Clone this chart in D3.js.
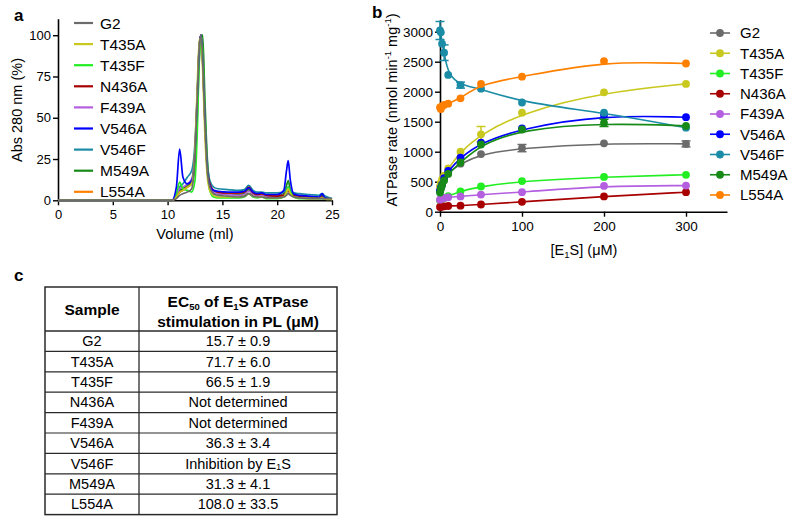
<!DOCTYPE html>
<html><head><meta charset="utf-8">
<script src="https://cdn.jsdelivr.net/npm/d3@7"></script>
<style>
body{margin:0;background:#fff}
text{font-family:'Liberation Sans',Arial,Helvetica,sans-serif;fill:#000}
</style>
</head><body>
<svg id="fig" width="800" height="524"></svg>
<script>
// ---------- shared ----------
const samples = ["G2","T435A","T435F","N436A","F439A","V546A","V546F","M549A","L554A"];
const colors  = ["#6b6b6b","#c8c81e","#22ee22","#a80000","#b45ee0","#0000ff","#1a8ca5","#178a17","#ff8000"];

// ---------- panel a: size-exclusion chromatograms ----------
const volumes = [0,10.4,10.8,11.1,11.4,11.8,12.2,12.5,12.7,12.9,13.05,13.2,13.4,13.6,13.85,14.2,14.6,15.5,16.5,17.0,17.4,17.8,18.2,18.6,19.0,20.0,20.6,20.85,21.0,21.2,21.5,22.0,23.0,23.8,24.1,24.3,24.6,25.0];
const absG2    = [0,0,1,3,4,5,7,28,60,94,100,85,48,20,8,4,3,2.5,2,2.5,4,2.5,2,2,1.5,1.5,2,3,4,3,2,1.5,1,1,1,1,1,1];
const absT435A = [0,0,2,5,6,8,10,32,68,98,97,78,40,16,6,3,2,2,2,2.5,4,2.5,2,2,1.5,1.5,2,5,7,4,2,1.5,1,1,1.5,1,0.5,0.5];
const absT435F = [0,0,4,11,7,6,5,12,40,88,100,90,54,23,6,2,1.5,1.5,1.5,2,4,2,1.5,2,1,1,2,5,8,5,2,1,1,1,1,1,1,0.5];
const absN436A = [0,0,2,5,6,8,10,28,60,94,100,86,50,22,10,6,5,4.5,4.5,5,8,4.5,3.5,4,3,2.5,3,5,6,4,3,2.5,2,1.5,2,1,1,0.5];
const absF439A = [0,0,3,7,8,10,13,30,62,94,100,85,49,21,9,5,4,3.5,3,3.5,5.5,3.5,3,3,2.5,2.5,3,5,6,4,3,2,1.5,1.5,2,1,1,0.5];
const absV546A = [0,0,8,31,14,10,12,30,62,94,100,84,48,20,9,6,5.5,5,5,5.5,7.5,5,4,4.5,3.5,3.5,6,18,24,12,4,3,2.5,2,4,2,1,0.5];
const absV546F = [0,0,3,8,10,14,18,35,64,95,100,86,52,25,12,8,7,6.5,6,6.5,9,6,5,5,4.5,4.5,5,7,8,6,4.5,4,3.5,3,4,3,2,1];
const absM549A = [0,0,2,6,7,9,10,22,50,86,99,100,62,28,10,5,4,3.5,3.5,4,6.5,4,3,3,2.5,2.5,4,9,12,6,3,2.5,2,1.5,3,1.5,1,0.5];
const absL554A = [0,0,2,6,7,9,11,27,59,94,100,84,48,21,9,5,4.5,4,4,4.5,6.5,4,3.5,3.5,3,3,3.5,5,6,4,3,2.5,2,1.5,2,1,1,0.5];
const absAll = [absG2,absT435A,absT435F,absN436A,absF439A,absV546A,absV546F,absM549A,absL554A];
const ticksA_x = [0,5,10,15,20,25];
const ticksA_y = [0,25,50,75,100];

// ---------- panel b: ATPase vs E1S ----------
const conc = [0,1,2.5,5,10,25,50,100,200,300];
const rateG2    = [350,400,470,550,650,800,960,1060,1140,1130];
const rateT435A = [420,480,540,600,720,1000,1290,1650,1990,2130];
const rateT435F = [190,200,210,230,260,340,420,510,580,615];
const rateN436A = [80,82,85,90,95,100,120,165,255,325];
const rateF439A = [200,210,220,230,240,255,285,325,430,435];
const rateV546A = [350,400,450,560,680,900,1150,1390,1610,1575];
const rateV546F = [3020,2990,2800,2650,2280,2110,2050,1820,1650,1400];
const rateM549A = [320,380,440,520,630,820,1120,1370,1480,1430];
const rateL554A = [1740,1710,1760,1780,1800,1890,2130,2250,2510,2470];
const errG2    = [0,0,0,0,0,0,0,60,0,50];
const errT435A = [0,0,0,0,0,0,130,0,0,0];
const errV546F = [150,0,0,130,0,50,0,0,0,0];
const errM549A = [0,0,0,0,0,0,0,0,60,0];
const errNone  = [0,0,0,0,0,0,0,0,0,0];
const rateAll = [rateG2,rateT435A,rateT435F,rateN436A,rateF439A,rateV546A,rateV546F,rateM549A,rateL554A];
const errAll  = [errG2,errT435A,errNone,errNone,errNone,errNone,errV546F,errM549A,errNone];
const ticksB_x = [0,100,200,300];
const ticksB_y = [0,500,1000,1500,2000,2500,3000];

// ---------- panel c: table ----------
const tableSamples = ["G2","T435A","T435F","N436A","F439A","V546A","V546F","M549A","L554A"];
const tableEC50 = ["15.7 ± 0.9","71.7 ± 6.0","66.5 ± 1.9","Not determined","Not determined","36.3 ± 3.4","Inhibition by E\u2081S","31.3 ± 4.1","108.0 ± 33.5"];

const svg = d3.select("#fig");

function styleAxis(g){
  g.selectAll("path").attr("stroke","#000").attr("stroke-width",1.6);
  g.selectAll("line").attr("stroke","#000").attr("stroke-width",1.4);
}

// ===== Panel a =====
{
  const x = d3.scaleLinear().domain([0,25]).range([58,332]);
  const y = d3.scaleLinear().domain([0,110]).range([200.3,18.7]);
  const gx = svg.append("g").attr("transform",`translate(0,${y(0)})`)
    .call(d3.axisBottom(x).tickValues(ticksA_x).tickFormat(d3.format("d")).tickSize(5).tickSizeOuter(0).tickPadding(4));
  gx.selectAll("text").attr("font-size",13);
  styleAxis(gx);
  const gy = svg.append("g").attr("transform",`translate(${x(0)},0)`)
    .call(d3.axisLeft(y).tickValues(ticksA_y).tickFormat(d3.format("d")).tickSize(5).tickSizeOuter(0).tickPadding(2));
  gy.selectAll("text").attr("font-size",13);
  styleAxis(gy);

  const line = d3.line().x((d,i)=>x(volumes[i])).y(d=>y(d)).curve(d3.curveMonotoneX);
  const order = [8,7,6,4,3,2,5,1,0];
  order.forEach(k=>{
    svg.append("path").attr("d",line(absAll[k])).attr("fill","none")
      .attr("stroke",colors[k]).attr("stroke-width",1.7).attr("stroke-linejoin","round");
  });

  // legend
  samples.forEach((s,i)=>{
    const yy = 23 + i*21.1;
    svg.append("line").attr("x1",74).attr("x2",93).attr("y1",yy).attr("y2",yy)
      .attr("stroke",colors[i]).attr("stroke-width",2.2);
    svg.append("text").attr("x",100).attr("y",yy+5.5).attr("font-size",15.5).text(s);
  });

  svg.append("text").attr("x",195).attr("y",239).attr("text-anchor","middle").attr("font-size",14.5).text("Volume (ml)");
  svg.append("text").attr("transform","translate(22,110) rotate(-90)").attr("text-anchor","middle")
    .attr("font-size",14.5).text("Abs 280 nm (%)");
  svg.append("text").attr("x",14).attr("y",21).attr("font-size",17).attr("font-weight","bold").text("a");
}

// ===== Panel b =====
{
  const x = d3.scaleLinear().domain([0,350]).range([440,727]);
  const y = d3.scaleLinear().domain([0,3200]).range([211.7,19.7]);
  const gx = svg.append("g").attr("transform",`translate(0,${y(0)})`)
    .call(d3.axisBottom(x).tickValues(ticksB_x).tickFormat(d3.format("d")).tickSize(5).tickSizeOuter(0).tickPadding(5));
  gx.selectAll("text").attr("font-size",13.5);
  styleAxis(gx);
  const gy = svg.append("g").attr("transform",`translate(${x(0)},0)`)
    .call(d3.axisLeft(y).tickValues(ticksB_y).tickFormat(d3.format("d")).tickSize(5).tickSizeOuter(0).tickPadding(2));
  gy.selectAll("text").attr("font-size",13.5);
  styleAxis(gy);

  const line = d3.line().x((d,i)=>x(conc[i])).y(d=>y(d)).curve(d3.curveBasis);
  samples.forEach((s,k)=>{
    const g = svg.append("g");
    g.append("path").attr("d",line(rateAll[k])).attr("fill","none")
      .attr("stroke",colors[k]).attr("stroke-width",1.6);
    rateAll[k].forEach((v,i)=>{
      const e = errAll[k][i];
      if(e>0){
        const cx = x(conc[i]);
        g.append("line").attr("x1",cx).attr("x2",cx).attr("y1",y(v-e)).attr("y2",y(v+e))
          .attr("stroke",colors[k]).attr("stroke-width",1.5);
        [v-e,v+e].forEach(t=>g.append("line").attr("x1",cx-4.5).attr("x2",cx+4.5)
          .attr("y1",y(t)).attr("y2",y(t)).attr("stroke",colors[k]).attr("stroke-width",1.5));
      }
    });
    g.selectAll("circle").data(rateAll[k]).enter().append("circle")
      .attr("cx",(d,i)=>x(conc[i])).attr("cy",d=>y(d)).attr("r",3.9).attr("fill",colors[k]);
  });

  // legend
  samples.forEach((s,i)=>{
    const yy = 33 + i*20.25;
    svg.append("line").attr("x1",710).attr("x2",730).attr("y1",yy).attr("y2",yy)
      .attr("stroke",colors[i]).attr("stroke-width",1.6);
    svg.append("circle").attr("cx",720).attr("cy",yy).attr("r",3.9).attr("fill",colors[i]);
    svg.append("text").attr("x",740).attr("y",yy+5.3).attr("font-size",15).text(s);
  });

  const xt = svg.append("text").attr("x",584).attr("y",255).attr("text-anchor","middle").attr("font-size",14.5);
  xt.append("tspan").text("[E");
  xt.append("tspan").attr("font-size",9.5).attr("dy",3).text("1");
  xt.append("tspan").attr("dy",-3).text("S] (\u03bcM)");

  const yt = svg.append("text").attr("transform","translate(397,110) rotate(-90)").attr("text-anchor","middle").attr("font-size",14.5);
  yt.append("tspan").text("ATPase rate (nmol min");
  yt.append("tspan").attr("font-size",9.5).attr("dy",-6).text("-1");
  yt.append("tspan").attr("dy",6).text(" mg");
  yt.append("tspan").attr("font-size",9.5).attr("dy",-6).text("-1");
  yt.append("tspan").attr("dy",6).text(")");

  svg.append("text").attr("x",372).attr("y",18).attr("font-size",17).attr("font-weight","bold").text("b");
}

// ===== Panel c =====
{
  const left = 45, mid = 139, right = 337, top = 287, headBottom = 331, rowH = 20.4;
  const bottom = headBottom + rowH*tableSamples.length;
  const g = svg.append("g");
  g.append("rect").attr("x",left).attr("y",top).attr("width",right-left).attr("height",bottom-top)
    .attr("fill","none").attr("stroke","#2a2a2a").attr("stroke-width",1.5);
  g.append("line").attr("x1",mid).attr("x2",mid).attr("y1",top).attr("y2",bottom)
    .attr("stroke","#2a2a2a").attr("stroke-width",1.3);
  for(let i=0;i<tableSamples.length;i++){
    const yy = headBottom + i*rowH;
    g.append("line").attr("x1",left).attr("x2",right).attr("y1",yy).attr("y2",yy)
      .attr("stroke","#2a2a2a").attr("stroke-width",i===0?1.5:1.2);
  }
  g.append("text").attr("x",(left+mid)/2).attr("y",314.5).attr("text-anchor","middle")
    .attr("font-size",15.5).attr("font-weight","bold").text("Sample");
  const cmid = (mid+right)/2;
  const h1 = g.append("text").attr("x",cmid).attr("y",306.5).attr("text-anchor","middle")
    .attr("font-size",15.5).attr("font-weight","bold");
  h1.append("tspan").text("EC");
  h1.append("tspan").attr("font-size",9.5).attr("dy",3).text("50");
  h1.append("tspan").attr("dy",-3).text(" of E");
  h1.append("tspan").attr("font-size",9.5).attr("dy",3).text("1");
  h1.append("tspan").attr("dy",-3).text("S ATPase");
  g.append("text").attr("x",cmid).attr("y",326.5).attr("text-anchor","middle")
    .attr("font-size",15.5).attr("font-weight","bold").text("stimulation in PL (\u03bcM)");
  tableSamples.forEach((s,i)=>{
    const yc = headBottom + i*rowH + rowH/2 + 5;
    g.append("text").attr("x",(left+mid)/2).attr("y",yc).attr("text-anchor","middle").attr("font-size",14.5).text(s);
    g.append("text").attr("x",cmid).attr("y",yc).attr("text-anchor","middle").attr("font-size",14.5).text(tableEC50[i]);
  });
  svg.append("text").attr("x",14).attr("y",281).attr("font-size",17).attr("font-weight","bold").text("c");
}
</script>
</body></html>
